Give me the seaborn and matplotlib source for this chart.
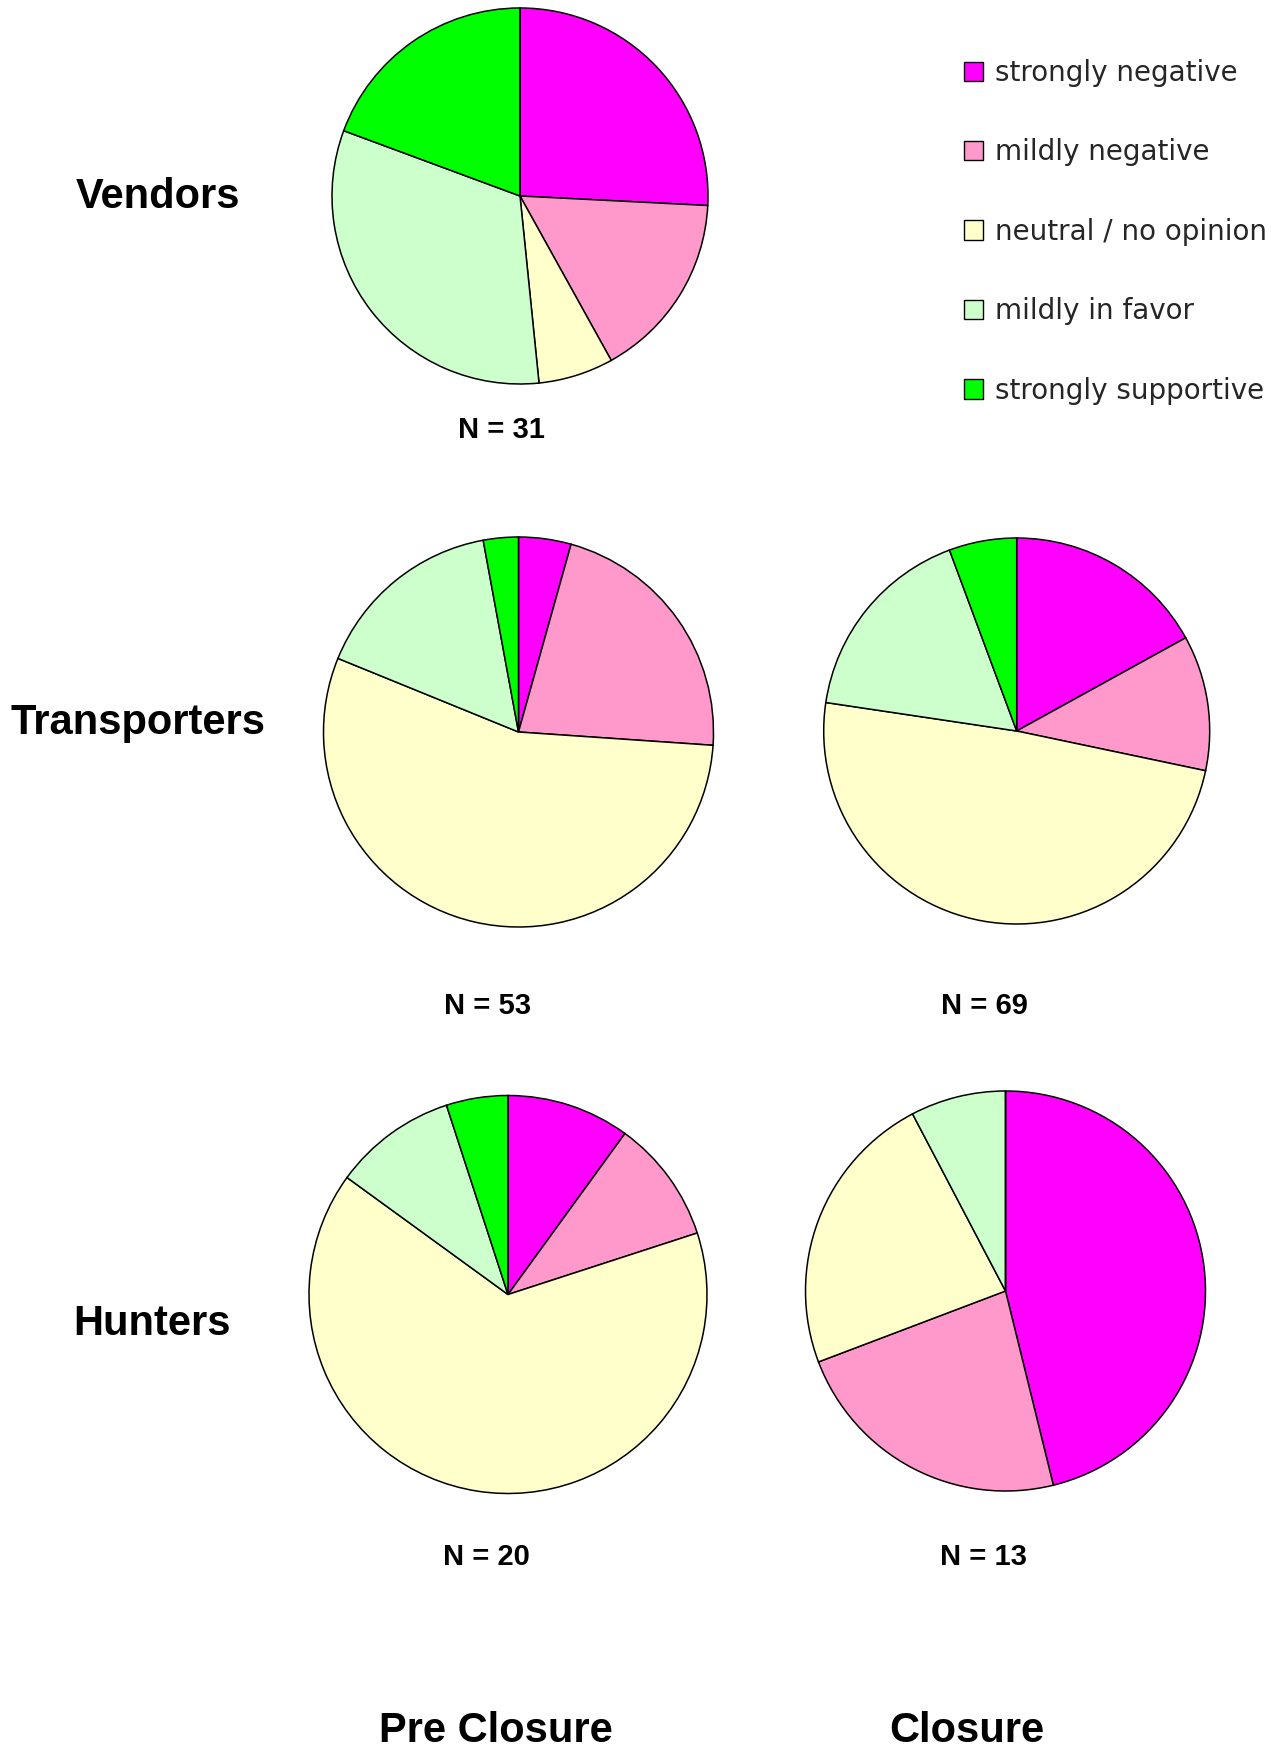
import matplotlib
matplotlib.use("Agg")
import matplotlib.pyplot as plt
from matplotlib.patches import Patch
import seaborn as sns

# ---------------------------
# Data (response counts per opinion category)
# ---------------------------
categories = [
    "strongly negative",
    "mildly negative",
    "neutral / no opinion",
    "mildly in favor",
    "strongly supportive",
]
colors = ["#FF00FF", "#FF99CC", "#FFFFCC", "#CCFFCC", "#00FF00"]

vendors_pre = [8, 5, 2, 10, 6]
transporters_pre = [3, 15, 38, 11, 2]
transporters_closure = [9, 6, 26, 9, 3]
hunters_pre = [2, 2, 13, 2, 1]
hunters_closure = [6, 3, 3, 1, 0]

n_labels = ["N = 31", "N = 53", "N = 69", "N = 20", "N = 13"]
row_labels = ["Vendors", "Transporters", "Hunters"]
col_labels = ["Pre Closure", "Closure"]

# ---------------------------
# Layout (pixel coordinates, origin top-left)
# ---------------------------
W, H = 1286, 1751
sns.set_theme(style="white")
plt.rcParams["font.family"] = ["DejaVu Sans"]

fig = plt.figure(figsize=(W / 100, H / 100), dpi=100)
ax = fig.add_axes([0, 0, 1, 1])


def fy(y):
    return H - y


pies = [
    (vendors_pre, (520, 196), 188),
    (transporters_pre, (518.5, 732), 195),
    (transporters_closure, (1016.7, 731), 193),
    (hunters_pre, (508, 1294.5), 199),
    (hunters_closure, (1005.5, 1291), 200),
]

for values, (cx, cy), r in pies:
    ax.pie(
        values,
        colors=colors,
        center=(cx, fy(cy)),
        radius=r,
        startangle=90,
        counterclock=False,
        wedgeprops=dict(edgecolor="black", linewidth=1.1),
        frame=True,
    )
ax.set_xlim(0, W)
ax.set_ylim(0, H)
ax.set_aspect("equal")
ax.axis("off")

bold = dict(family="Liberation Sans", fontweight="bold", color="black")

# row labels
for label, (x, y) in zip(row_labels, [(157.5, 208), (138, 734), (152.5, 1335)]):
    ax.text(x, fy(y), label, fontsize=30, ha="center", va="baseline", **bold)

# N labels
n_pos = [(501.7, 438), (487.5, 1014), (984, 1014), (486.7, 1565), (983.5, 1565)]
for label, (x, y) in zip(n_labels, n_pos):
    ax.text(x, fy(y), label, fontsize=21, ha="center", va="baseline", **bold)

# column titles
for label, x in zip(col_labels, [495.6, 967]):
    ax.text(x, fy(1742), label, fontsize=30, ha="center", va="baseline", **bold)

# legend
handles = [Patch(facecolor=c, edgecolor="black", linewidth=1.0) for c in colors]
ax.legend(
    handles,
    categories,
    loc="upper left",
    bbox_to_anchor=(964, fy(59)),
    bbox_transform=ax.transData,
    frameon=False,
    handlelength=0.7,
    handleheight=0.7,
    handletextpad=0.42,
    labelspacing=1.85,
    borderpad=0,
    borderaxespad=0,
    prop={"family": "DejaVu Sans", "size": 20},
)

fig.savefig("out.png", dpi=100, facecolor="white")
